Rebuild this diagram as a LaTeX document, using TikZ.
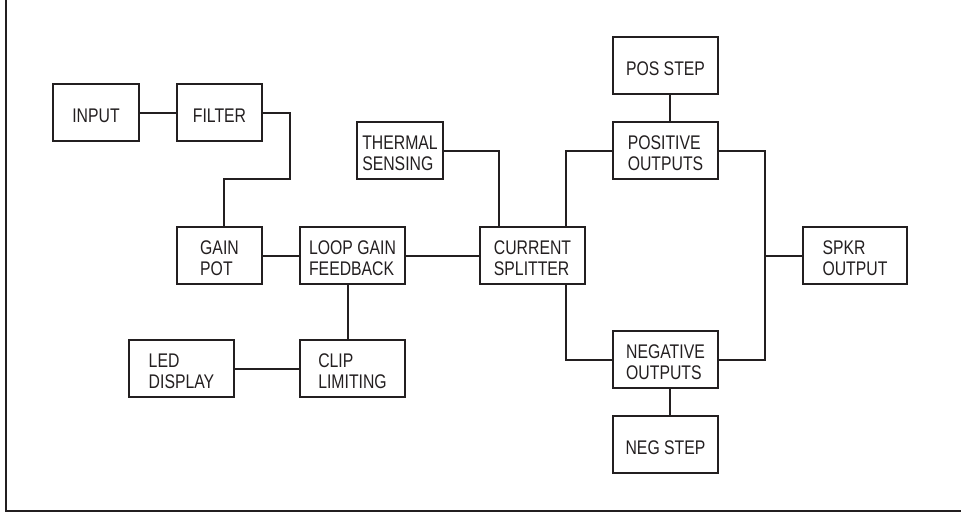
\documentclass[tikz,border=0pt]{standalone}
\usepackage{fontspec}
\setmainfont{Liberation Sans}[FakeStretch=0.8]
\usetikzlibrary{calc}
\definecolor{ink}{HTML}{231F20}
\begin{document}
\begin{tikzpicture}[x=0.75pt,y=-0.75pt,
  box/.style={draw=ink, line width=1.5pt, rectangle, inner sep=0pt,
              minimum width=#1*0.75pt, minimum height=57*0.75pt},
  box/.default=105,
  lbl/.style={font=\fontsize{14.8pt}{16pt}\selectfont, text=ink, align=left,
              inner sep=0pt, yshift=-2.25pt},
  wire/.style={draw=ink, line width=1.5pt},
  frame/.style={draw=ink, line width=1.5pt}]
\useasboundingbox (0,0) rectangle (961,515);
% frame
\draw[frame] (6,0) -- (6,511) -- (961,511);
% blocks
\node[box=86, label={[lbl]center:INPUT}] (input) at (96,112.5) {};
\node[box=85, label={[lbl]center:FILTER}] (filter) at (219.5,112.5) {};
\node[box=86, label={[lbl]center:{THERMAL\\SENSING}}] (thermal) at (400,150.5) {};
\node[box=85, label={[lbl]center:{GAIN\\POT}}] (gain) at (219.5,255.5) {};
\node[box, label={[lbl]center:{LOOP GAIN\\FEEDBACK}}] (loop) at (352.5,255.5) {};
\node[box, label={[lbl]center:{CURRENT\\SPLITTER}}] (current) at (532.5,255.5) {};
\node[box, label={[lbl]center:POS STEP}] (posstep) at (665.5,65.5) {};
\node[box, label={[lbl]center:{POSITIVE\\OUTPUTS}}] (posout) at (665.5,150.5) {};
\node[box=104, label={[lbl]center:{SPKR\\OUTPUT}}] (spkr) at (855,255.5) {};
\node[box, label={[lbl]center:{NEGATIVE\\OUTPUTS}}] (negout) at (665.5,359.5) {};
\node[box, label={[lbl]center:NEG STEP}] (negstep) at (665.5,444.5) {};
\node[box, label={[lbl]center:{LED\\DISPLAY}}] (led) at (181.5,368.5) {};
\node[box, label={[lbl]center:{CLIP\\LIMITING}}] (clip) at (352.5,368.5) {};
% connectors
\coordinate (fk) at (290,179);
\coordinate (sj) at (765,255.5);
\draw[wire] (input.east) -- (filter.west);
\draw[wire] (filter.east) -| (fk) -| ($(gain.north)+(4.5,0)$);
\draw[wire] (thermal.east) -| ($(current.north)+(-33.5,0)$);
\draw[wire] (gain.east) -- (loop.west);
\draw[wire] (loop.east) -- (current.west);
\draw[wire] ($(loop.south)+(-5,0)$) -- ($(clip.north)+(-5,0)$);
\draw[wire] (led.east) -- (clip.west);
\draw[wire] ($(current.north)+(33.5,0)$) |- (posout.west);
\draw[wire] ($(current.south)+(33.5,0)$) |- (negout.west);
\draw[wire] ($(posstep.south)+(4.5,0)$) -- ($(posout.north)+(4.5,0)$);
\draw[wire] ($(negout.south)+(4.5,0)$) -- ($(negstep.north)+(4.5,0)$);
\draw[wire] (posout.east) -| (sj) |- (negout.east);
\draw[wire] (sj) -- (spkr.west);
\end{tikzpicture}
\end{document}
